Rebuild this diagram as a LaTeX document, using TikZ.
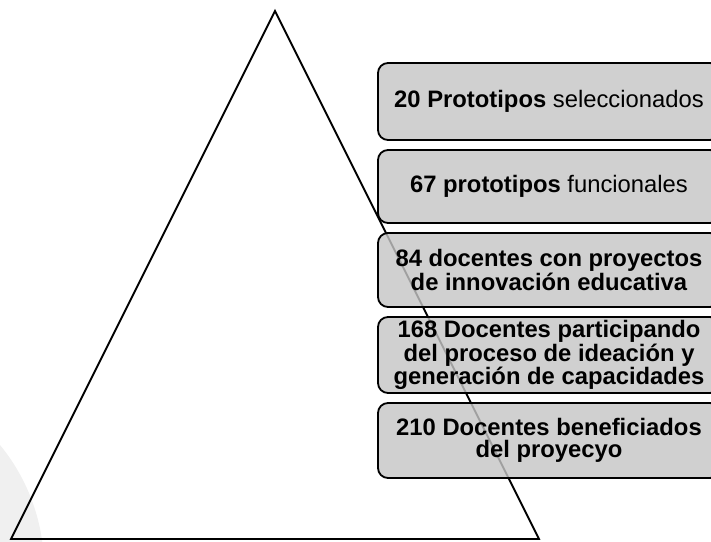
\documentclass[tikz,border=0pt]{standalone}
\usepackage{fontspec}
\setmainfont{Liberation Sans}
\usepackage{tikz}
\usetikzlibrary{positioning}
\definecolor{boxgray}{RGB}{197,197,197}
\definecolor{wmgray}{RGB}{240,240,240}

\begin{document}
\begin{tikzpicture}[x=1pt,y=-1pt]
\tikzstyle{level}=[rectangle, draw=black, line width=1.8pt, rounded corners=10pt, fill=boxgray, fill opacity=0.81, text opacity=1, text=black, minimum width=342pt, inner sep=0pt, align=center, font=\fontsize{23.8}{22}\selectfont]
\tikzstyle{pyr}=[line width=1.8pt, draw=black, line join=miter]

	\clip (0,0) rectangle (711,541);
	\fill[wmgray] (-150,568) circle (194);

	\coordinate (apex) at (275,11);
	\coordinate (baseL) at (11,539);
	\coordinate (baseR) at (539,539);
	\draw[pyr] (apex) -- (baseL) -- (baseR) -- cycle;

	\node[level, minimum height=77pt] (lvl1) at (549,101.5) []{\textbf{20 Prototipos} seleccionados};
	\node[level, minimum height=73pt] (lvl2) at (549,186.5) []{\textbf{67 prototipos} funcionales};
	\node[level, minimum height=74pt] (lvl3) at (549,270) []{\textbf{84 docentes con proyectos}\\\textbf{de innovación educativa}};
	\node[level, minimum height=76pt] (lvl4) at (549,355) []{\textbf{168 Docentes participando}\\\textbf{del proceso de ideación y}\\\textbf{generación de capacidades}};
	\node[level, minimum height=75pt] (lvl5) at (549,440.5) []{\textbf{210 Docentes beneficiados}\\\textbf{del proyecyo}};

\end{tikzpicture}
\end{document}
